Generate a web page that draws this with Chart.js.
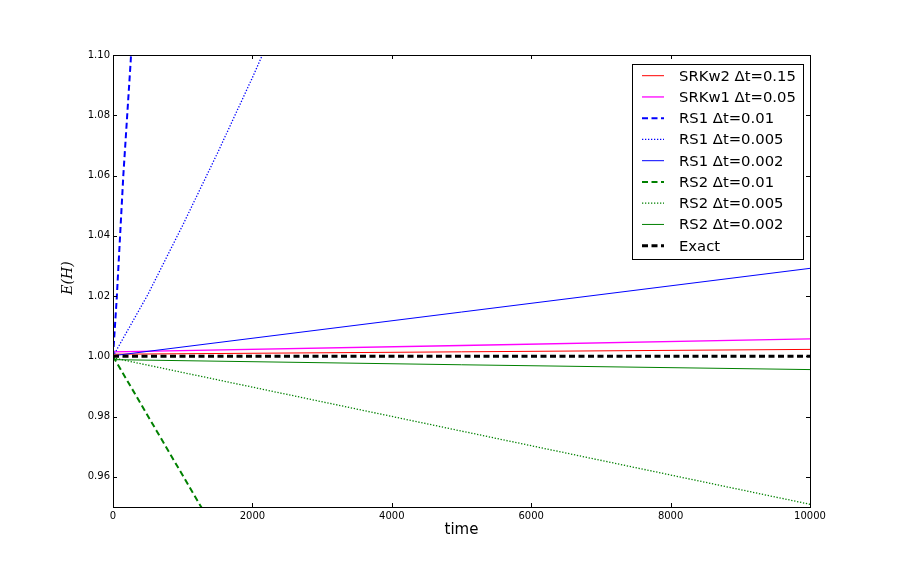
<!DOCTYPE html>
<html>
<head>
<meta charset="utf-8">
<script src="https://cdn.jsdelivr.net/npm/chart.js@4"></script>
<style>
html,body{margin:0;padding:0;background:#fff;}
canvas{display:block;}
</style>
</head>
<body>
<canvas id="c" width="900" height="564"></canvas>
<script>
// ---- data ----
const timeFull = [0, 5000, 10000];

const srkw2Dt015 = [1.0007, 1.0015, 1.0023];
const srkw1Dt005 = [1.0015, 1.0036, 1.0058];

const rs1Dt001Time = [0, 53, 148, 254, 280];
const rs1Dt001 = [1.0, 1.019, 1.06, 1.098, 1.109];

const rs1Dt0005Time = [0, 500, 1000, 1500, 2000, 2200];
const rs1Dt0005 = [1.0, 1.0205, 1.0435, 1.0675, 1.0925, 1.103];

const rs1Dt0002 = [1.0002, 1.0147, 1.0292];

const rs2Dt001Time = [0, 620, 1250, 1300];
const rs2Dt001 = [1.0, 0.9755, 0.9506, 0.9487];

const rs2Dt0005 = [0.9995, 0.9752, 0.9509];
const rs2Dt0002 = [0.9989, 0.9972, 0.9956];
const exact = [1.0, 1.0, 1.0];

const seriesLabels = [
  'SRKw2 \u0394t=0.15', 'SRKw1 \u0394t=0.05',
  'RS1 \u0394t=0.01', 'RS1 \u0394t=0.005', 'RS1 \u0394t=0.002',
  'RS2 \u0394t=0.01', 'RS2 \u0394t=0.005', 'RS2 \u0394t=0.002',
  'Exact'
];
const xTicks = [0, 2000, 4000, 6000, 8000, 10000];
const yTicks = [0.96, 0.98, 1.00, 1.02, 1.04, 1.06, 1.08, 1.10];

// ---- build ----
function pts(xs, ys){ return xs.map((x,i)=>({x:x, y:ys[i]})); }

const seriesData = [
  pts(timeFull, srkw2Dt015), pts(timeFull, srkw1Dt005),
  pts(rs1Dt001Time, rs1Dt001), pts(rs1Dt0005Time, rs1Dt0005), pts(timeFull, rs1Dt0002),
  pts(rs2Dt001Time, rs2Dt001), pts(timeFull, rs2Dt0005), pts(timeFull, rs2Dt0002),
  pts(timeFull, exact)
];
const styles = [
  {c:'#ff0000', w:1, d:[]},
  {c:'#ff00ff', w:1.3, d:[]},
  {c:'#0000ff', w:2, d:[6,3.5]},
  {c:'#0000ff', w:1.3, d:[1.3,1.7]},
  {c:'#0000ff', w:1, d:[]},
  {c:'#008000', w:2, d:[6,3.5]},
  {c:'#008000', w:1.3, d:[1.3,1.7]},
  {c:'#008000', w:1, d:[]},
  {c:'#000000', w:3, d:[6,3.5]}
];

const datasets = seriesData.map((d,i)=>({
  label: seriesLabels[i],
  data: d,
  borderColor: styles[i].c,
  backgroundColor: styles[i].c,
  borderWidth: styles[i].w,
  borderDash: styles[i].d,
  pointRadius: 0,
  pointHoverRadius: 0,
  fill: false,
  tension: 0,
  clip: 0,
  order: seriesData.length - i
}));

const frameAndLabels = {
  id: 'frameAndLabels',
  afterDraw(chart){
    const ctx = chart.ctx, a = chart.chartArea;
    const xs = chart.scales.x, ys = chart.scales.y;
    ctx.save();
    // frame
    ctx.strokeStyle = '#000'; ctx.lineWidth = 1; ctx.setLineDash([]);
    ctx.strokeRect(Math.round(a.left)+0.5, Math.round(a.top)+0.5,
                   Math.round(a.right-a.left), Math.round(a.bottom-a.top));
    // inward ticks on all four sides
    ctx.beginPath();
    xTicks.forEach(v=>{
      const px = Math.round(xs.getPixelForValue(v))+0.5;
      ctx.moveTo(px, a.bottom); ctx.lineTo(px, a.bottom-4);
      ctx.moveTo(px, a.top); ctx.lineTo(px, a.top+4);
    });
    yTicks.forEach(v=>{
      const py = Math.round(ys.getPixelForValue(v))+0.5;
      ctx.moveTo(a.left, py); ctx.lineTo(a.left+4, py);
      ctx.moveTo(a.right, py); ctx.lineTo(a.right-4, py);
    });
    ctx.stroke();
    // axis titles
    ctx.fillStyle = '#000';
    ctx.font = '15px "DejaVu Sans"';
    ctx.textAlign = 'center'; ctx.textBaseline = 'middle';
    ctx.fillText('time', (a.left+a.right)/2, 530);
    ctx.save();
    ctx.translate(68, 278);
    ctx.rotate(-Math.PI/2);
    ctx.font = 'italic 14px "DejaVu Serif"';
    ctx.fillText('E(H)', 0, 0);
    ctx.restore();
    // legend
    const lx = 632, ly = 64, lw = 171, lh = 195;
    ctx.fillStyle = '#fff';
    ctx.fillRect(lx, ly, lw, lh);
    ctx.strokeStyle = '#000'; ctx.lineWidth = 1;
    ctx.strokeRect(lx+0.5, ly+0.5, lw, lh);
    ctx.font = '14.8px "DejaVu Sans"';
    ctx.textAlign = 'left'; ctx.textBaseline = 'middle';
    chart.data.datasets.forEach((ds,i)=>{
      const y = 75.7 + i*21.25;
      ctx.beginPath();
      ctx.strokeStyle = ds.borderColor;
      ctx.lineWidth = ds.borderWidth;
      ctx.setLineDash(ds.borderDash);
      ctx.moveTo(642, y); ctx.lineTo(664, y);
      ctx.stroke();
      ctx.setLineDash([]);
      ctx.fillStyle = '#000';
      ctx.fillText(ds.label, 679, y+1);
    });
    ctx.restore();
  }
};

new Chart(document.getElementById('c'), {
  type: 'line',
  data: { datasets },
  options: {
    responsive: false,
    animation: false,
    devicePixelRatio: 1,
    layout: { padding: { top: 55, right: 90, left: 0, bottom: 0 } },
    plugins: { legend: { display: false }, tooltip: { enabled: false }, title: { display: false } },
    scales: {
      x: {
        type: 'linear', min: 0, max: 10000,
        afterBuildTicks: s => { s.ticks = xTicks.map(v=>({value:v})); },
        afterFit: s => { s.height = 57; },
        grid: { display: false, drawTicks: false },
        border: { display: false },
        ticks: { color: '#000', padding: 3, maxRotation: 0, autoSkip: false,
                 font: { family: 'DejaVu Sans', size: 10 },
                 callback: v => String(v) }
      },
      y: {
        type: 'linear', min: 0.95, max: 1.10,
        afterBuildTicks: s => { s.ticks = yTicks.map(v=>({value:v})); },
        afterFit: s => { s.width = 113; },
        grid: { display: false, drawTicks: false },
        border: { display: false },
        ticks: { color: '#000', padding: 3, autoSkip: false,
                 font: { family: 'DejaVu Sans', size: 10 },
                 callback: v => Number(v).toFixed(2) }
      }
    }
  },
  plugins: [frameAndLabels]
});
</script>
</body>
</html>
